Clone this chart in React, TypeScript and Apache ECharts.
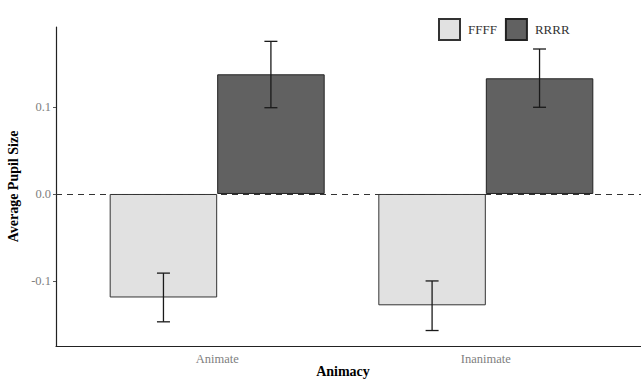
import React, { useEffect, useRef } from "react";
import * as echarts from "echarts";

const categories = ["Animate", "Inanimate"];
const groups = ["FFFF", "RRRR"];
const meanFFFF = [-0.119, -0.128];
const meanRRRR = [0.1376, 0.133];
const lowFFFF = [-0.147, -0.157];
const highFFFF = [-0.091, -0.1];
const lowRRRR = [0.0992, 0.0997];
const highRRRR = [0.1755, 0.1667];
const yTicks = [-0.1, 0.0, 0.1];

const SERIF = "'Liberation Serif', 'DejaVu Serif', serif";
const DODGE = 0.2;

function errorSeries(name: string, lows: number[], highs: number[], offset: number) {
  return {
    type: "custom",
    name: name + "_err",
    silent: true,
    z: 5,
    data: categories.map((_, i) => [i + 1, lows[i], highs[i]]),
    encode: { x: 0, y: [1, 2] },
    renderItem: (params: any, api: any) => {
      const x = api.value(0) + offset;
      const lo = api.coord([x, api.value(1)]);
      const hi = api.coord([x, api.value(2)]);
      const half = 6.5;
      const style = { stroke: "#1a1a1a", lineWidth: 1.3 };
      return {
        type: "group",
        children: [
          { type: "line", shape: { x1: lo[0], y1: lo[1], x2: hi[0], y2: hi[1] }, style },
          { type: "line", shape: { x1: lo[0] - half, y1: lo[1], x2: lo[0] + half, y2: lo[1] }, style },
          { type: "line", shape: { x1: hi[0] - half, y1: hi[1], x2: hi[0] + half, y2: hi[1] }, style },
        ],
      };
    },
  };
}

export default function App() {
  const ref = useRef<HTMLDivElement>(null);
  useEffect(() => {
    document.body.style.margin = "0";
    const chart = echarts.init(ref.current!, undefined, { renderer: "svg" });
    chart.setOption({
      animation: false,
      backgroundColor: "#ffffff",
      textStyle: { fontFamily: SERIF },
      legend: {
        data: groups,
        left: 433,
        top: 13,
        itemWidth: 21,
        itemHeight: 21,
        itemGap: 8,
        icon: "rect",
        textStyle: { fontFamily: SERIF, fontSize: 13, color: "#333", padding: [0, 0, 0, 3] },
      },
      grid: { left: 56, right: -6, top: 27, bottom: 33, containLabel: false, outerBoundsMode: "none" },
      xAxis: {
        type: "value",
        min: 0.4,
        max: 2.6,
        splitLine: { show: false },
        axisLine: { show: true, onZero: false, lineStyle: { color: "#222", width: 1.2 } },
        axisTick: { show: false },
        axisLabel: {
          customValues: [1, 2],
          formatter: (v: number) => categories[Math.round(v) - 1] ?? "",
          color: "#808080",
          fontFamily: SERIF,
          fontSize: 12.5,
          margin: 6,
        },
        name: "",
      },
      yAxis: {
        type: "value",
        min: -0.1748,
        max: 0.192,
        splitLine: { show: false },
        axisLine: { show: true, lineStyle: { color: "#222", width: 1.2 } },
        axisTick: { show: true, length: 3, customValues: yTicks, lineStyle: { color: "#555" } },
        axisLabel: {
          customValues: yTicks,
          formatter: (v: number) => v.toFixed(1),
          color: "#808080",
          fontFamily: SERIF,
          fontSize: 12.5,
          margin: 5,
        },
        name: "Average Pupil Size",
        nameLocation: "middle",
        nameGap: 35,
        nameTextStyle: { fontFamily: SERIF, fontSize: 14, fontWeight: "bold", color: "#000" },
      },
      graphic: [
        {
          type: "text",
          x: 343,
          y: 371,
          style: {
            text: "Animacy",
            fontFamily: SERIF,
            fontSize: 14,
            fontWeight: "bold",
            fill: "#000",
            align: "center",
            verticalAlign: "middle",
          },
        },
      ],
      series: [
        {
          type: "bar",
          name: groups[0],
          data: categories.map((_, i) => [i + 1, meanFFFF[i]]),
          barWidth: 107.5,
          barGap: "0%",
          itemStyle: { color: "#e1e1e1", borderColor: "#333", borderWidth: 1 },
          markLine: {
            silent: true,
            symbol: "none",
            label: { show: false },
            lineStyle: { type: [6, 5], color: "#333", width: 1.2 },
            data: [{ yAxis: 0 }],
          },
        },
        {
          type: "bar",
          name: groups[1],
          data: categories.map((_, i) => [i + 1, meanRRRR[i]]),
          barWidth: 107.5,
          barGap: "0%",
          itemStyle: { color: "#616161", borderColor: "#222", borderWidth: 1 },
        },
        errorSeries(groups[0], lowFFFF, highFFFF, -DODGE),
        errorSeries(groups[1], lowRRRR, highRRRR, DODGE),
      ],
    });
    return () => chart.dispose();
  }, []);
  return (
    <div
      ref={ref}
      style={{ position: "fixed", left: 0, top: 0, width: 641, height: 379 }}
    />
  );
}
